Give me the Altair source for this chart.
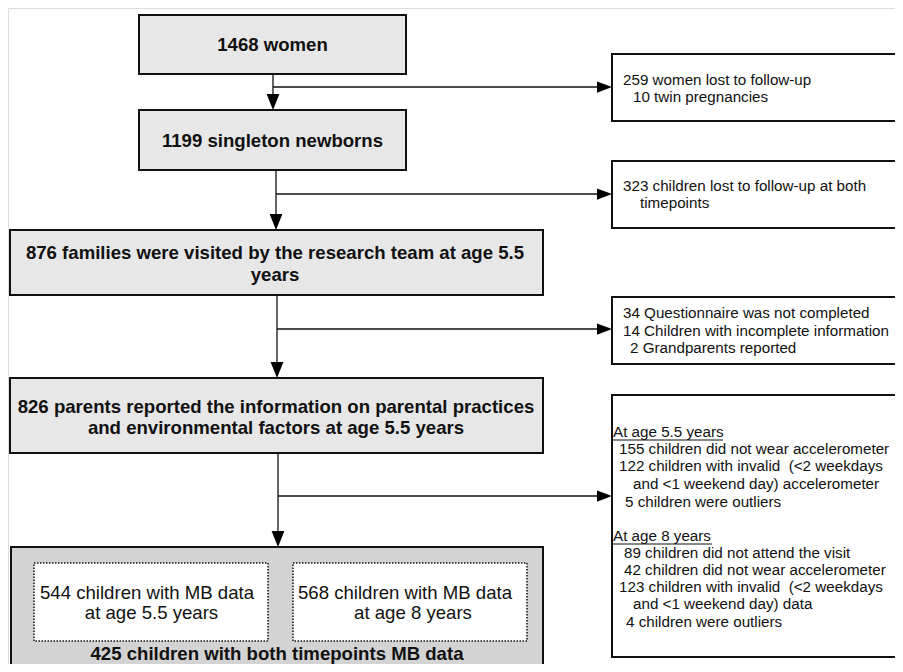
import altair as alt
import pandas as pd

# ---------------- content ----------------
main_lines = [
    ["1468 women"],
    ["1199 singleton newborns"],
    ["876 families were visited by the research team at age 5.5", "years"],
    ["826 parents reported the information on parental practices",
     "and environmental factors at age 5.5 years"],
]
excl_lines = [
    ["259 women lost to follow-up", "10 twin pregnancies"],
    ["323 children lost to follow-up at both", "timepoints"],
    ["34 Questionnaire was not completed", "14 Children with incomplete information",
     "2 Grandparents reported"],
    ["At age 5.5 years", "155 children did not wear accelerometer",
     "122 children with invalid \u00a0(<2 weekdays", "and <1 weekend day) accelerometer",
     "5 children were outliers",
     "At age 8 years", "89 children did not attend the visit",
     "42 children did not wear accelerometer", "123 children with invalid \u00a0(<2 weekdays",
     "and <1 weekend day) data", "4 children were outliers"],
]
inner_lines = [["544 children with MB data", "at age 5.5 years"],
               ["568 children with MB data", "at age 8 years"]]
final_label = "425 children with both timepoints MB data"

# ---------------- layout (pixel coordinates of the page) ----------------
W, H = 887, 656
X0, Y0 = 8, 8
main_boxes = [(139, 406, 15, 74), (139, 406, 110, 170), (10, 543, 230, 295), (10, 543, 378, 453)]
main_text_x = [272.5, 272.5, 275, 276]
main_text_y = [[45], [141], [253, 275], [407, 428]]
excl_boxes = [(612, 930, 54, 121), (612, 930, 161, 228), (612, 930, 297, 364), (612, 930, 395, 657)]
excl_text_x = [[623, 633], [623, 640], [623, 623, 630],
               [613, 619, 619, 633, 625, 613, 624, 624, 619, 633, 626]]
excl_text_y = [[80, 97], [186, 203], [313, 331, 348],
               [432, 449, 466, 484, 502, 536, 553, 570, 587, 604, 622]]
underlines = [(613, 723, 440), (613, 712, 544)]
final_box = (11, 543, 547, 700)
inner_boxes = [(34, 268, 563, 641), (293, 527, 563, 641)]
inner_text_x = [[147, 151.5], [405, 413]]
inner_text_y = [593, 613]
final_text_xy = (277, 654)
stems = [(273, 74, 110), (276, 170, 230), (277, 295, 378), (278, 453, 547)]
branch_y = [87, 194, 329, 496]
branch_tip_x = 612

FONT = "Liberation Sans"
LIGHT = "#e7e7e7"
DARK = "#d3d3d3"
INK = "#111111"

xs = alt.Scale(domain=[X0, X0 + W], nice=False, zero=False)
ys = alt.Scale(domain=[Y0 + H, Y0], nice=False, zero=False)


def X(f="x"):
    return alt.X(f"{f}:Q", scale=xs, axis=None)


def Y(f="y"):
    return alt.Y(f"{f}:Q", scale=ys, axis=None)


# boxes
rows = []
for (a, b, c, d) in main_boxes:
    rows.append(dict(x=a, x2=b, y=c, y2=d, fill=LIGHT))
for (a, b, c, d) in excl_boxes:
    rows.append(dict(x=a, x2=b, y=c, y2=d, fill="#ffffff"))
a, b, c, d = final_box
rows.append(dict(x=a, x2=b, y=c, y2=d, fill=DARK))
boxes_df = pd.DataFrame(rows)
boxes = alt.Chart(boxes_df).mark_rect(stroke=INK, strokeWidth=2).encode(
    x=X(), x2="x2:Q", y=Y(), y2="y2:Q", fill=alt.Fill("fill:N", scale=None))

inner_df = pd.DataFrame([dict(x=a, x2=b, y=c, y2=d) for (a, b, c, d) in inner_boxes])
inner = alt.Chart(inner_df).mark_rect(fill="white", stroke=INK, strokeWidth=1.5,
                                      strokeDash=[1.5, 1.5]).encode(
    x=X(), x2="x2:Q", y=Y(), y2="y2:Q")

# connectors
seg = []
for (sx, yt, yb), by in zip(stems, branch_y):
    seg.append(dict(x=sx, x2=sx, y=yt, y2=yb - 12))
    seg.append(dict(x=sx, x2=branch_tip_x - 12, y=by, y2=by))
seg_df = pd.DataFrame(seg)
rules = alt.Chart(seg_df).mark_rule(color=INK, strokeWidth=1.3).encode(
    x=X(), x2="x2:Q", y=Y(), y2="y2:Q")

down_df = pd.DataFrame([dict(x=sx, y=yb - 8) for (sx, yt, yb) in stems])
down = alt.Chart(down_df).mark_point(shape="M-0.8,-1L0.8,-1L0,1Z", size=256, filled=True,
                                     color="black", opacity=1, strokeWidth=0).encode(x=X(), y=Y())
right_df = pd.DataFrame([dict(x=branch_tip_x - 7.5, y=by) for by in branch_y])
right = alt.Chart(right_df).mark_point(shape="M-1,-0.75L1,0L-1,0.75Z", size=225, filled=True,
                                       color="black", opacity=1, strokeWidth=0).encode(x=X(), y=Y())

# texts
bold_rows = []
for lines, cx, ylist in zip(main_lines, main_text_x, main_text_y):
    for t, ty in zip(lines, ylist):
        bold_rows.append(dict(x=cx, y=ty, t=t))
bold_rows.append(dict(x=final_text_xy[0], y=final_text_xy[1], t=final_label))
bold_txt = alt.Chart(pd.DataFrame(bold_rows)).mark_text(
    font=FONT, fontSize=18.6, fontWeight="bold", align="center", baseline="middle", color=INK
).encode(x=X(), y=Y(), text="t:N")

inner_rows = []
for lines, xl in zip(inner_lines, inner_text_x):
    for t, tx, ty in zip(lines, xl, inner_text_y):
        inner_rows.append(dict(x=tx, y=ty, t=t))
inner_txt = alt.Chart(pd.DataFrame(inner_rows)).mark_text(
    font=FONT, fontSize=18.6, align="center", baseline="middle", color=INK
).encode(x=X(), y=Y(), text="t:N")

excl_rows = []
for lines, xl, yl in zip(excl_lines, excl_text_x, excl_text_y):
    for t, tx, ty in zip(lines, xl, yl):
        excl_rows.append(dict(x=tx, y=ty, t=t))
excl_txt = alt.Chart(pd.DataFrame(excl_rows)).mark_text(
    font=FONT, fontSize=15.2, align="left", baseline="middle", color=INK
).encode(x=X(), y=Y(), text="t:N")

ul_df = pd.DataFrame([dict(x=a, x2=b, y=c, y2=c) for (a, b, c) in underlines])
ul = alt.Chart(ul_df).mark_rule(color=INK, strokeWidth=1).encode(
    x=X(), x2="x2:Q", y=Y(), y2="y2:Q")

chart = alt.layer(boxes, inner, rules, down, right, bold_txt, inner_txt, excl_txt, ul).properties(
    width=W, height=H, padding=0, autosize=alt.AutoSizeParams(type="none")
).configure_view(strokeWidth=0, stroke="transparent").configure(background="white")

chart.save("out.html", embed_options={"renderer": "svg", "actions": False})
